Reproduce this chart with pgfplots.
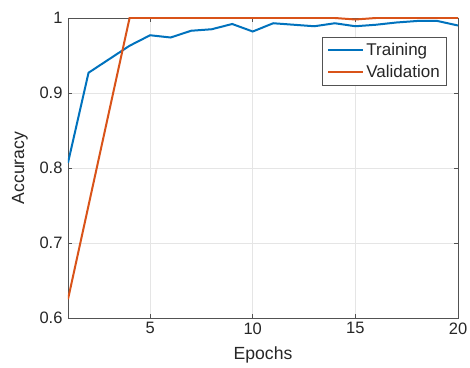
\documentclass[border=0pt]{standalone}
\usepackage{fontspec}
\setmainfont{Liberation Sans}
\usepackage{pgfplots}
\pgfplotsset{compat=1.18}
\definecolor{mblue}{rgb}{0,0.447,0.741}
\definecolor{morange}{rgb}{0.85,0.325,0.098}
\definecolor{txt}{rgb}{0.15,0.15,0.15}
\begin{document}
\begin{tikzpicture}
\useasboundingbox (-68pt,-49pt) rectangle (402pt,318pt);
\begin{axis}[
  at={(0,0)}, anchor=south west,
  scale only axis, width=390pt, height=300pt,
  xmin=1, xmax=20, ymin=0.6, ymax=1,
  xtick={5,10,15,20}, ytick={0.6,0.7,0.8,0.9,1},
  yticklabels={0.6,0.7,0.8,0.9,1},
  xticklabels={5,10,15,20},
  tick align=inside, major tick length=4pt,
  tick style={txt!80, line width=0.6pt},
  axis line style={txt!80, line width=0.6pt},
  grid=major, major grid style={gray!20, line width=0.5pt},
  tick label style={font=\fontsize{16.5}{18}\selectfont, text=txt},
  yticklabel style={xshift=-2pt},
  xticklabel style={yshift=-1pt},
  /pgf/number format/assume math mode=true,
  every axis x label/.style={at={(rel axis cs:0.5,0)}, anchor=center, yshift=-37pt, font=\fontsize{17.6}{20}\selectfont, text=txt},
  every axis y label/.style={at={(rel axis cs:0,0.5)}, xshift=-48pt, rotate=90, anchor=center, font=\fontsize{17.6}{20}\selectfont, text=txt},
  xlabel={Epochs}, ylabel={Accuracy},
  legend style={at={(rel axis cs:0.972,0.937)}, anchor=north east, draw=txt!80, line width=0.6pt, font=\fontsize{17}{19}\selectfont, text=txt, row sep=4pt, inner xsep=5pt, inner ysep=4pt},
  legend cell align=left,
  legend image code/.code={\draw[#1, line width=2pt] (0pt,0pt) -- (35pt,0pt);},
]
\addplot[mblue, line width=2pt] coordinates {
(1,0.807) (2,0.927) (3,0.945) (4,0.963) (5,0.977) (6,0.974) (7,0.983) (8,0.985) (9,0.992) (10,0.982)
(11,0.993) (12,0.991) (13,0.989) (14,0.993) (15,0.989) (16,0.991) (17,0.994) (18,0.996) (19,0.996) (20,0.990)};
\addlegendentry{Training}
\addplot[morange, line width=2pt] coordinates {
(1,0.625) (2,0.750) (3,0.875) (4,1) (5,1) (6,1) (7,1) (8,1) (9,1) (10,1)
(11,1) (12,1) (13,1) (14,1) (15,0.998) (16,1) (17,1) (18,1) (19,1) (20,1)};
\addlegendentry{Validation}
\end{axis}
\end{tikzpicture}
\end{document}
